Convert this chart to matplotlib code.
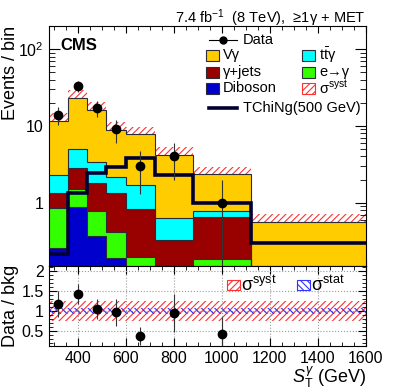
import matplotlib
matplotlib.use("Agg")
import matplotlib.pyplot as plt
import numpy as np
from matplotlib.patches import Rectangle
from matplotlib.lines import Line2D

plt.rcParams['font.family'] = ['Liberation Sans', 'DejaVu Sans']
plt.rcParams['mathtext.fontset'] = 'custom'
plt.rcParams['mathtext.rm'] = 'Liberation Sans'
plt.rcParams['mathtext.it'] = 'Liberation Sans:italic'
plt.rcParams['hatch.linewidth'] = 0.8

# bin edges in S_T^gamma (GeV)
edges = [280, 360, 440, 520, 600, 720, 880, 1120, 1600]

# background yields per bin (stacked bottom -> top)
diboson = [0.26, 0.87, 0.37, 0.19, 0.05, 0.02, 0.03, 0.01]
e_to_g = [0.58, 0.62, 0.40, 0.22, 0.145, 0.10, 0.155, 0.03]
g_jets = [0.51, 1.30, 1.05, 0.91, 0.625, 0.21, 0.46, 0.03]
ttg = [0.94, 2.23, 1.62, 0.86, 0.88, 0.30, 0.125, 0.05]
vg = [9.3, 17.9, 12.5, 6.8, 6.2, 3.53, 1.59, 0.447]
syst_frac = [0.26, 0.28, 0.27, 0.25, 0.24, 0.27, 0.23, 0.27]

# signal TChiNg(500 GeV)
signal = [0.216, 1.35, 2.45, 2.93, 3.77, 2.29, 0.98, 0.296]

# observed data (bins with events)
data_x = [320, 400, 480, 560, 660, 800, 1000]
data = [14, 33, 17, 9, 3, 4, 1]
data_err = [3.7, 5.7, 4.1, 3.0, 1.7, 2.0, 1.0]

# ratio panel
ratio = [1.18, 1.42, 1.05, 0.97, 0.38, 0.95, 0.43]
ratio_err = [0.33, 0.25, 0.26, 0.34, 0.22, 0.48, 0.42]
ratio_syst = 0.24
ratio_stat = 0.07

components = [
    (diboson, "#0000cc", "Diboson"),
    (e_to_g, "#33ff00", "e→γ"),
    (g_jets, "#990000", "γ+jets"),
    (ttg, "#00ffff", r"t$\bar{\mathrm{t}}$γ"),
    (vg, "#ffcc00", "Vγ"),
]

fig = plt.figure(figsize=(4.07, 3.91), dpi=100)
ax = fig.add_axes([0.120, 0.3197, 0.779, 0.6138])
axr = fig.add_axes([0.120, 0.1151, 0.779, 0.2046], sharex=ax)

edges = np.array(edges)
lefts = edges[:-1]
widths = np.diff(edges)

# stack
bottom = np.full(len(lefts), 1e-3)
for vals, col, lab in components:
    top = bottom + np.array(vals)
    ax.stairs(top, edges, baseline=bottom, fill=True, color=col, zorder=2)
    ax.stairs(top, edges, baseline=None, color="#2b2b3a", lw=0.8, zorder=3)
    bottom = top
total = bottom

# syst band
sf = np.array(syst_frac)
ax.bar(lefts, total * 2 * sf, width=widths, bottom=total * (1 - sf), align='edge',
       facecolor='none', edgecolor='#ff3030', hatch='/////', lw=0, zorder=1)

# signal
ax.stairs(signal, edges, baseline=None, color="#000033", lw=2.6, zorder=5)

# data
ax.errorbar(data_x, data, yerr=data_err, fmt='o', color='black', ms=6,
            ecolor='#333333', elinewidth=0.8, capsize=0, zorder=6)

ax.set_yscale('log')
ax.set_ylim(0.15, 200)
ax.set_xlim(280, 1600)
ax.set_yticks([1, 10, 100])
ax.set_yticklabels(["1", "10", "$10^2$"])
ax.tick_params(axis='both', which='both', direction='in', top=True, right=True, labelsize=11.5)
ax.tick_params(axis='x', which='major', length=5)
ax.tick_params(axis='x', which='minor', length=3)
ax.tick_params(axis='y', which='major', length=8)
ax.tick_params(axis='y', which='minor', length=4)
ax.xaxis.set_major_locator(plt.MultipleLocator(200))
ax.xaxis.set_minor_locator(plt.MultipleLocator(50))
plt.setp(ax.get_xticklabels(), visible=False)
ax.set_ylabel("Events / bin", fontsize=13, loc='top')
ax.yaxis.set_label_coords(-0.093, 1.0)

ax.text(1.0, 1.014, r"7.4 fb$^{-1}$  (8 TeV),  ≥1γ + MET", transform=ax.transAxes,
        ha='right', va='baseline', fontsize=10.5)
ax.text(0.035, 0.92, "CMS", transform=ax.transAxes, ha='left', va='center',
        fontsize=12, fontweight='bold')

# legend drawn by hand
def fx(px):
    return (px - 49) / 317.0

def fy(py):
    return (266 - py) / 240.0

leg_fs = 10.5
ax.add_line(Line2D([fx(209), fx(237)], [fy(40), fy(40)], color='black', lw=0.8,
                   transform=ax.transAxes, zorder=10))
ax.add_line(Line2D([fx(223)], [fy(40)], marker='o', ms=5, color='black',
                   transform=ax.transAxes, zorder=10))
ax.text(fx(243), fy(40), "Data", transform=ax.transAxes, va='center', fontsize=leg_fs, zorder=10)

leg_items = [
    (fx(206), fy(55), "#ffcc00", "Vγ", None),
    (fx(206), fy(72), "#990000", "γ+jets", None),
    (fx(206), fy(88), "#0000cc", "Diboson", None),
    (fx(302), fy(55), "#00ffff", r"t$\bar{\mathrm{t}}$γ", None),
    (fx(302), fy(72), "#33ff00", "e→γ", None),
    (fx(302), fy(88), "none", r"σ$^{\mathrm{syst}}$", '/////'),
]
bw, bh = 13 / 317.0, 11 / 240.0
for x0, y0, col, lab, hat in leg_items:
    if hat:
        ax.add_patch(Rectangle((x0, y0 - bh / 2), bw, bh, facecolor='white', edgecolor='#ff3030',
                               hatch=hat, lw=0.8, transform=ax.transAxes, zorder=10))
    else:
        ax.add_patch(Rectangle((x0, y0 - bh / 2), bw, bh, facecolor=col, edgecolor='#2b2b3a',
                               lw=0.8, transform=ax.transAxes, zorder=10))
    ax.text(x0 + bw + 4 / 317.0, y0, lab, transform=ax.transAxes, va='center',
            fontsize=leg_fs, zorder=10)

ax.add_line(Line2D([fx(209), fx(237)], [fy(108), fy(108)], color='#000033', lw=2.6,
                   transform=ax.transAxes, zorder=10))
ax.text(fx(243), fy(108), "TChiNg(500 GeV)", transform=ax.transAxes, va='center',
        fontsize=leg_fs, zorder=10)

# ratio panel
axr.fill_between([280, 1600], 1 - ratio_syst, 1 + ratio_syst, facecolor='none',
                 edgecolor='#ff3030', hatch='/////', lw=0, zorder=1)
axr.fill_between([280, 1600], 1 - ratio_stat, 1 + ratio_stat, facecolor='none',
                 edgecolor='#3333ff', hatch='\\\\\\\\\\', lw=0, zorder=2)
axr.errorbar(data_x, ratio, yerr=ratio_err, fmt='o', color='black', ms=6,
             ecolor='#333333', elinewidth=0.8, capsize=0, zorder=6)
axr.set_ylim(0.13, 2.12)
axr.set_yticks([0.5, 1, 1.5, 2])
axr.set_yticklabels(["0.5", "1", "1.5", "2"])
axr.yaxis.set_minor_locator(plt.MultipleLocator(0.1))
axr.set_xticks([400, 600, 800, 1000, 1200, 1400, 1600])
axr.set_xlim(280, 1600)
axr.grid(True, which='major', color='#999999', ls=':', lw=0.8)
axr.tick_params(axis='both', which='both', direction='in', top=True, right=True, labelsize=11.5)
axr.tick_params(axis='x', which='major', length=6)
axr.tick_params(axis='x', which='minor', length=3)
axr.tick_params(axis='y', which='major', length=6)
axr.tick_params(axis='y', which='minor', length=3)
axr.set_ylabel("Data / bkg", fontsize=13)
axr.yaxis.set_label_coords(-0.093, 0.5)
axr.set_xlabel(r"$S_{\mathrm{T}}^{\gamma}$ (GeV)", fontsize=13, loc='right')
axr.xaxis.set_label_coords(1.0, -0.24)

def rfx(px):
    return (px - 49) / 317.0

def rfy(py):
    return (346 - py) / 80.0

rbw, rbh = 13 / 317.0, 10 / 80.0
axr.add_patch(Rectangle((rfx(227), rfy(285) - rbh / 2), rbw, rbh, facecolor='white',
                        edgecolor='#ff3030', hatch='/////', lw=0.8, transform=axr.transAxes, zorder=10))
axr.text(rfx(241), rfy(285), r"σ$^{\mathrm{syst}}$", transform=axr.transAxes, va='center',
         fontsize=13, zorder=10)
axr.add_patch(Rectangle((rfx(297), rfy(285) - rbh / 2), rbw, rbh, facecolor='white',
                        edgecolor='#3333ff', hatch='\\\\\\\\\\', lw=0.8, transform=axr.transAxes, zorder=10))
axr.text(rfx(311), rfy(285), r"σ$^{\mathrm{stat}}$", transform=axr.transAxes, va='center',
         fontsize=13, zorder=10)

fig.savefig("out.png", dpi=100)
